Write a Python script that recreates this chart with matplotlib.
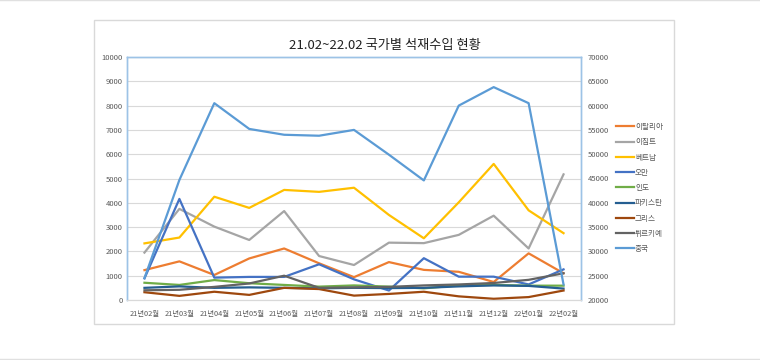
import matplotlib
matplotlib.use('Agg')
from matplotlib import pyplot as plt
from matplotlib.patches import Rectangle
from matplotlib.lines import Line2D

plt.rcParams['font.family'] = ['Noto Sans CJK KR', 'DejaVu Sans']
plt.rcParams['axes.unicode_minus'] = False

months = ['21년02월', '21년03월', '21년04월', '21년05월', '21년06월', '21년07월', '21년08월',
          '21년09월', '21년10월', '21년11월', '21년12월', '22년01월', '22년02월']

italy = [1230, 1590, 1030, 1710, 2120, 1510, 940, 1560, 1240, 1160, 740, 1920, 1100]
egypt = [1950, 3750, 3020, 2470, 3660, 1810, 1440, 2360, 2340, 2680, 3470, 2120, 5170]
vietnam = [2330, 2570, 4250, 3790, 4530, 4450, 4620, 3500, 2540, 4020, 5600, 3690, 2750]
oman = [890, 4160, 920, 950, 950, 1470, 850, 390, 1720, 960, 960, 640, 1260]
india = [710, 620, 820, 690, 620, 550, 600, 550, 480, 600, 620, 590, 590]
pakistan = [500, 560, 500, 520, 500, 480, 500, 490, 500, 560, 600, 580, 470]
greece = [320, 170, 340, 210, 500, 450, 180, 250, 340, 150, 50, 120, 390]
turkey = [400, 420, 540, 680, 1000, 500, 520, 540, 600, 640, 700, 830, 1100]
china = [24500, 44700, 60500, 55200, 54000, 53800, 55000, 49900, 44600, 60000, 63800, 60500, 23200]

left_series = [
    ('이탈리아', italy, '#ED7D31'),
    ('이집트', egypt, '#A5A5A5'),
    ('베트남', vietnam, '#FFC000'),
    ('오만', oman, '#4472C4'),
    ('인도', india, '#70AD47'),
    ('파키스탄', pakistan, '#255E91'),
    ('그리스', greece, '#9E480E'),
    ('튀르키예', turkey, '#636363'),
]

fig = plt.figure(figsize=(7.6, 3.6), dpi=100)
fig.patch.set_facecolor('white')

# outer chart frame and page lines
fig.add_artist(Rectangle((94 / 760, 36 / 360), 580 / 760, 304 / 360, transform=fig.transFigure,
                         fill=False, edgecolor='#D9D9D9', linewidth=1))
fig.add_artist(Line2D([0, 1], [0.999, 0.999], transform=fig.transFigure, color='#E0E0E0', linewidth=1))
fig.add_artist(Line2D([0, 1], [0.002, 0.002], transform=fig.transFigure, color='#E0E0E0', linewidth=1))

ax = fig.add_axes([127 / 760, 60 / 360, 454 / 760, 243 / 360])
ax2 = ax.twinx()

x = range(len(months))
handles = []
for name, vals, color in left_series:
    h, = ax.plot(x, vals, color=color, linewidth=1.6, label=name)
    handles.append(h)
h, = ax2.plot(x, china, color='#5B9BD5', linewidth=1.6, label='중국')
handles.append(h)

ax.set_xlim(-0.5, len(months) - 0.5)
ax.set_ylim(0, 10000)
ax.set_yticks(range(0, 10001, 1000))
ax2.set_ylim(20000, 70000)
ax2.set_yticks(range(20000, 70001, 5000))
ax.set_xticks(list(x))
ax.set_xticklabels(months)

ax.grid(axis='y', color='#D9D9D9', linewidth=0.8)
ax.set_axisbelow(True)

for a in (ax, ax2):
    for side in ('left', 'top', 'right'):
        a.spines[side].set_color('#9DC3E6')
        a.spines[side].set_linewidth(1)
    a.spines['bottom'].set_color('#D9D9D9')

ax.tick_params(axis='both', length=0, labelcolor='#595959')
ax.tick_params(axis='y', pad=3, labelsize=5.5)
ax.tick_params(axis='x', pad=7, labelsize=5.3)
ax2.tick_params(axis='y', length=0, labelsize=5.5, labelcolor='#595959', pad=5)

fig.text(385 / 760, 1 - 45 / 360, '21.02~22.02 국가별 석재수입 현황', ha='center', va='center',
         fontsize=9.5, color='#222222')

leg = fig.legend(handles=handles, loc='upper left', bbox_to_anchor=(616 / 760, 1 - 123 / 360),
                 frameon=False, fontsize=5.5, handlelength=2.3, handletextpad=0.2,
                 labelspacing=0.95, borderpad=0, borderaxespad=0)
for t in leg.get_texts():
    t.set_color('#595959')

fig.savefig('out.png', dpi=100, facecolor='white')
